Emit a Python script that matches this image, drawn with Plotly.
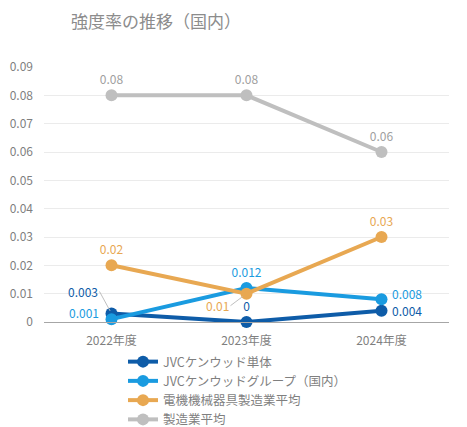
import plotly.graph_objects as go

# Data
years = ["2022年度", "2023年度", "2024年度"]
jvc_single = [0.003, 0.0, 0.004]
jvc_group = [0.001, 0.012, 0.008]
electric_avg = [0.02, 0.01, 0.03]
manufacturing_avg = [0.08, 0.08, 0.06]

y_ticks = [0, 0.01, 0.02, 0.03, 0.04, 0.05, 0.06, 0.07, 0.08, 0.09]
y_ticktext = ["0", "0.01", "0.02", "0.03", "0.04", "0.05", "0.06", "0.07", "0.08", "0.09"]

FONT = "Noto Sans CJK JP"
DARK_BLUE = "#0E5CA8"
LIGHT_BLUE = "#1A9BE0"
ORANGE = "#E8A852"
GRAY = "#BFBFBF"
GRAY_TEXT = "#A0A0A0"

# which point labels sit straight above the marker (others are annotations)
series = [
    ("JVCケンウッド単体", jvc_single, DARK_BLUE, DARK_BLUE, [False, True, False]),
    ("JVCケンウッドグループ（国内）", jvc_group, LIGHT_BLUE, LIGHT_BLUE, [False, True, False]),
    ("電機機械器具製造業平均", electric_avg, ORANGE, ORANGE, [True, False, True]),
    ("製造業平均", manufacturing_avg, GRAY, GRAY_TEXT, [True, True, True]),
]

fig = go.Figure()

for name, vals, color, tcolor, show in series:
    labels = [f"{v:g}" if s else "" for v, s in zip(vals, show)]
    fig.add_trace(go.Scatter(
        x=years,
        y=vals,
        name=name,
        mode="lines+markers+text",
        line=dict(color=color, width=4),
        marker=dict(color=color, size=12),
        text=labels,
        textposition="top center",
        textfont=dict(color=tcolor, size=12, family=FONT),
        cliponaxis=False,
    ))

# Labels pulled away from their points, with leader lines
fig.add_annotation(x=years[0], y=jvc_single[0], text=f"{jvc_single[0]:g}",
                   ax=-12, ay=-22, showarrow=True, arrowhead=0, arrowwidth=1,
                   arrowcolor="#BFBFBF", standoff=3, xanchor="right",
                   font=dict(color=DARK_BLUE, size=12, family=FONT))
fig.add_annotation(x=years[1], y=electric_avg[1], text=f"{electric_avg[1]:g}",
                   ax=-16, ay=12, showarrow=True, arrowhead=0, arrowwidth=1,
                   arrowcolor="#BFBFBF", standoff=5, xanchor="right",
                   font=dict(color=ORANGE, size=12, family=FONT))

# Side labels without leader lines
fig.add_annotation(x=years[0], y=jvc_group[0], text=f"{jvc_group[0]:g}",
                   showarrow=False, xanchor="right", xshift=-11, yshift=7,
                   font=dict(color=LIGHT_BLUE, size=12, family=FONT))
fig.add_annotation(x=years[2], y=jvc_group[2], text=f"{jvc_group[2]:g}",
                   showarrow=False, xanchor="left", xshift=8, yshift=6,
                   font=dict(color=LIGHT_BLUE, size=12, family=FONT))
fig.add_annotation(x=years[2], y=jvc_single[2], text=f"{jvc_single[2]:g}",
                   showarrow=False, xanchor="left", xshift=8, yshift=0,
                   font=dict(color=DARK_BLUE, size=12, family=FONT))

fig.update_layout(
    width=467,
    height=427,
    margin=dict(l=44, r=18, t=67, b=105, autoexpand=False),
    paper_bgcolor="white",
    plot_bgcolor="white",
    font=dict(family=FONT, color="#7F7F7F", size=12),
    title=dict(
        text="強度率の推移（国内）",
        x=71 / 467,
        xanchor="left",
        y=1 - 22 / 427,
        yanchor="middle",
        font=dict(size=17, color="#8C8C8C", family=FONT),
    ),
    showlegend=True,
    legend=dict(
        orientation="v",
        x=123 / 467,
        xanchor="left",
        xref="container",
        y=1 - 347 / 427,
        yanchor="top",
        yref="container",
        font=dict(size=12.5, color="#7F7F7F", family=FONT),
        tracegroupgap=0,
        itemwidth=30,
    ),
    xaxis=dict(
        range=[-0.5, 2.5],
        showgrid=False,
        showline=True,
        linecolor="#A6A6A6",
        linewidth=1,
        ticks="",
        ticklabelstandoff=8,
        tickfont=dict(size=12, color="#7F7F7F"),
        fixedrange=True,
        automargin=False,
    ),
    yaxis=dict(
        range=[0, 0.09],
        tickvals=y_ticks,
        ticktext=y_ticktext,
        showgrid=True,
        gridcolor="#EBEBEB",
        gridwidth=1,
        zeroline=False,
        ticks="",
        ticklabelstandoff=10,
        tickfont=dict(size=12, color="#7F7F7F"),
        fixedrange=True,
        automargin=False,
    ),
)

# drop the default page margin so the figure sits at the window's top-left
fig.write_html("out.html", config={"displayModeBar": False},
               post_script="document.body.style.margin='0';")
